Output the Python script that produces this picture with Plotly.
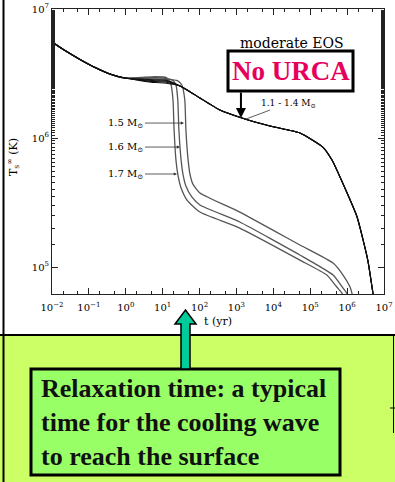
import plotly.graph_objects as go

# ---------------- data (log10 t [yr], log10 Ts [K]) ----------------
LT_EARLY = [-2.00, -1.648, -1.241, -0.835, -0.428, -0.022]
LTS_EARLY = [6.744, 6.678, 6.609, 6.547, 6.496, 6.465]

LT_PLATEAU = [0.40, 0.80, 1.10]

# 1.1 - 1.4 Msun: plateau values, then a shared slow-cooling tail
PLATEAU_11 = [6.445, 6.430, 6.425]
PLATEAU_12 = [6.449, 6.437, 6.432]
PLATEAU_13 = [6.453, 6.444, 6.440]
PLATEAU_14 = [6.457, 6.451, 6.447]
LT_LIGHT_TAIL = [1.47, 1.75, 2.01, 2.55, 3.15, 3.91, 4.72, 5.34, 5.59, 5.94, 6.27, 6.56, 6.70, 6.76]
LTS_LIGHT_TAIL = [6.403, 6.357, 6.310, 6.217, 6.155, 6.093, 6.039, 5.930, 5.829, 5.612, 5.388, 5.054, 4.798, 4.68]

# 1.5 Msun
PLATEAU_15 = [6.461, 6.459, 6.455]
LT_15_TAIL = [1.40, 1.52, 1.60, 1.63, 1.69, 1.74, 1.82, 2.01, 3.09, 4.72, 5.62, 5.89, 6.08, 6.13, 6.18]
LTS_15_TAIL = [6.445, 6.411, 6.295, 6.062, 5.829, 5.721, 5.643, 5.574, 5.426, 5.171, 5.031, 4.938, 4.845, 4.798, 4.744]
# 1.6 Msun
PLATEAU_16 = [6.465, 6.467, 6.462]
LT_16_TAIL = [1.28, 1.36, 1.41, 1.44, 1.50, 1.55, 1.63, 1.79, 2.01, 3.09, 4.72, 5.62, 5.89, 5.99, 6.05]
LTS_16_TAIL = [6.445, 6.411, 6.295, 6.062, 5.829, 5.721, 5.628, 5.543, 5.481, 5.349, 5.093, 4.938, 4.837, 4.798, 4.744]
# 1.7 Msun
PLATEAU_17 = [6.469, 6.475, 6.468]
LT_17_TAIL = [1.22, 1.28, 1.31, 1.36, 1.41, 1.50, 1.66, 2.01, 3.09, 4.72, 5.45, 5.72, 5.86, 5.91]
LTS_17_TAIL = [6.420, 6.295, 6.062, 5.829, 5.721, 5.612, 5.519, 5.426, 5.302, 5.054, 4.938, 4.845, 4.798, 4.744]

X_RANGE_LOG = [-2, 7]
Y_RANGE_LOG = [4.791, 7]
X_TICK_EXP = [-2, -1, 0, 1, 2, 3, 4, 5, 6, 7]
Y_TICK_EXP = [5, 6, 7]

# ---------------- figure ----------------
W, H = 395, 482
ML, MR, MT, MB = 52, 11, 9, 188
PW, PH = W - ML - MR, H - MT - MB


def px(x):
    return (x - ML) / PW


def py(y):
    return (H - MB - y) / PH


fig = go.Figure()


def add_curve(lt, lts, color, width):
    fig.add_trace(go.Scatter(
        x=[10 ** v for v in lt], y=[10 ** v for v in lts], mode="lines",
        line=dict(color=color, width=width, shape="spline", smoothing=0.5),
        hoverinfo="skip", showlegend=False))


add_curve(LT_EARLY + LT_PLATEAU + LT_15_TAIL, LTS_EARLY + PLATEAU_15 + LTS_15_TAIL, "#555555", 1.3)
add_curve(LT_EARLY + LT_PLATEAU + LT_16_TAIL, LTS_EARLY + PLATEAU_16 + LTS_16_TAIL, "#555555", 1.3)
add_curve(LT_EARLY + LT_PLATEAU + LT_17_TAIL, LTS_EARLY + PLATEAU_17 + LTS_17_TAIL, "#555555", 1.3)
for pl in [PLATEAU_11, PLATEAU_12, PLATEAU_13, PLATEAU_14]:
    add_curve(LT_EARLY + LT_PLATEAU + LT_LIGHT_TAIL, LTS_EARLY + pl + LTS_LIGHT_TAIL, "#111111", 1.1)


def exp_labels(exps):
    return [f"10<sup>{e}</sup>".replace("-", "\u2212") for e in exps]


axis_common = dict(
    type="log", automargin=False,
    ticks="inside", ticklen=6, tickwidth=1, tickcolor="#222",
    minor=dict(ticks="inside", ticklen=3, tickcolor="#222"),
    mirror="ticks", showline=True, linecolor="#222", linewidth=1,
    showgrid=False, zeroline=False,
    tickfont=dict(family="DejaVu Serif", size=10, color="black"),
)
fig.update_xaxes(range=X_RANGE_LOG, tickvals=[10 ** e for e in X_TICK_EXP],
                 ticktext=exp_labels(X_TICK_EXP), ticklabelstandoff=4, **axis_common)
fig.update_yaxes(range=Y_RANGE_LOG, tickvals=[10 ** e for e in Y_TICK_EXP],
                 ticktext=exp_labels(Y_TICK_EXP), **axis_common)

shapes = []
# green lower panel
shapes.append(dict(type="rect", xref="paper", yref="paper", x0=px(0), x1=px(W), y0=py(335), y1=py(H + 2),
                   fillcolor="#CCFF66", line=dict(width=0), layer="above"))
shapes.append(dict(type="line", xref="paper", yref="paper", x0=px(0), x1=px(W), y0=py(335), y1=py(335),
                   line=dict(color="black", width=2), layer="above"))
shapes.append(dict(type="line", xref="paper", yref="paper", x0=px(3.5), x1=px(3.5), y0=py(0), y1=py(H),
                   line=dict(color="black", width=2), layer="above"))
shapes.append(dict(type="line", xref="paper", yref="paper", x0=px(393.5), x1=px(393.5), y0=py(336), y1=py(433),
                   line=dict(color="black", width=1), layer="above"))
shapes.append(dict(type="line", xref="paper", yref="paper", x0=px(390), x1=px(W), y0=py(408), y1=py(408),
                   line=dict(color="black", width=1), layer="above"))
# relaxation text box
shapes.append(dict(type="rect", xref="paper", yref="paper", x0=px(31), x1=px(340), y0=py(369), y1=py(475),
                   fillcolor="#99FF66", line=dict(color="black", width=3), layer="above"))
# green upward arrow
ax_c = 185.5
path = (f"M {px(ax_c - 4.5)} {py(369)} L {px(ax_c - 4.5)} {py(324)} L {px(ax_c - 10.5)} {py(324)} "
        f"L {px(ax_c)} {py(310)} L {px(ax_c + 10.5)} {py(324)} L {px(ax_c + 4.5)} {py(324)} "
        f"L {px(ax_c + 4.5)} {py(369)} Z")
shapes.append(dict(type="path", xref="paper", yref="paper", path=path,
                   fillcolor="#00CC99", line=dict(color="black", width=1.5), layer="above"))
# No URCA box
shapes.append(dict(type="rect", xref="paper", yref="paper", x0=px(228), x1=px(353), y0=py(51), y1=py(91),
                   fillcolor="white", line=dict(color="black", width=3), layer="above"))
fig.update_layout(shapes=shapes)

serif = "DejaVu Serif"
C = dict(xanchor="center", yanchor="middle")
ann = []
ann.append(dict(xref="paper", yref="paper", x=px(292), y=py(43), text="moderate EOS", showarrow=False,
                font=dict(family=serif, size=14, color="black"), **C))
ann.append(dict(xref="paper", yref="paper", x=px(290.5), y=py(71), text="<b>No URCA</b>", showarrow=False,
                font=dict(family="Liberation Serif", size=27, color="#E6005C"), **C))
# arrow from the No URCA box to the light-star curve
ann.append(dict(x=3.122, y=6.155, xref="x", yref="y", text="", showarrow=True, ax=0, ay=-27,
                arrowhead=2, arrowsize=1, arrowwidth=2, arrowcolor="black"))
ann.append(dict(x=3.257, y=6.147, xref="x", yref="y", text="1.1 - 1.4 M<sub>⊙</sub>", showarrow=True,
                ax=43, ay=-16, arrowhead=0, arrowwidth=0.8, arrowcolor="#333",
                font=dict(family=serif, size=9, color="black")))
for lab, xt, yt, axo in [("1.5", 1.577, 6.116, -58), ("1.6", 1.469, 5.930, -54), ("1.7", 1.388, 5.721, -51)]:
    ann.append(dict(x=xt, y=yt, xref="x", yref="y", text=f"{lab} M<sub>⊙</sub>", showarrow=True,
                    ax=axo, ay=0, arrowhead=2, arrowsize=0.8, arrowwidth=0.8, arrowcolor="#333",
                    font=dict(family=serif, size=10, color="black")))
ann.append(dict(xref="paper", yref="paper", x=px(218), y=py(321), text="t (yr)", showarrow=False,
                font=dict(family=serif, size=11, color="black"), **C))
ann.append(dict(xref="paper", yref="paper", x=px(13), y=py(157), text="T<sub>s</sub><sup>∞</sup> (K)",
                showarrow=False, textangle=-90, font=dict(family=serif, size=11, color="black"), **C))
ann.append(dict(xref="paper", yref="paper", x=px(39), y=py(422), xanchor="left", yanchor="middle",
                text="<b>Relaxation time: a typical<br>time for the cooling wave<br>to reach the surface</b>",
                align="left", showarrow=False,
                font=dict(family="Liberation Serif", size=26, color="#111")))
fig.update_layout(annotations=ann)

fig.update_layout(width=W, height=H, margin=dict(l=ML, r=MR, t=MT, b=MB, pad=0, autoexpand=False),
                  paper_bgcolor="white", plot_bgcolor="white", showlegend=False)

fig.write_html("out.html", config={"displayModeBar": False},
               post_script="document.body.style.margin='0';document.body.style.padding='0';"
                           "document.body.style.overflow='hidden';")
